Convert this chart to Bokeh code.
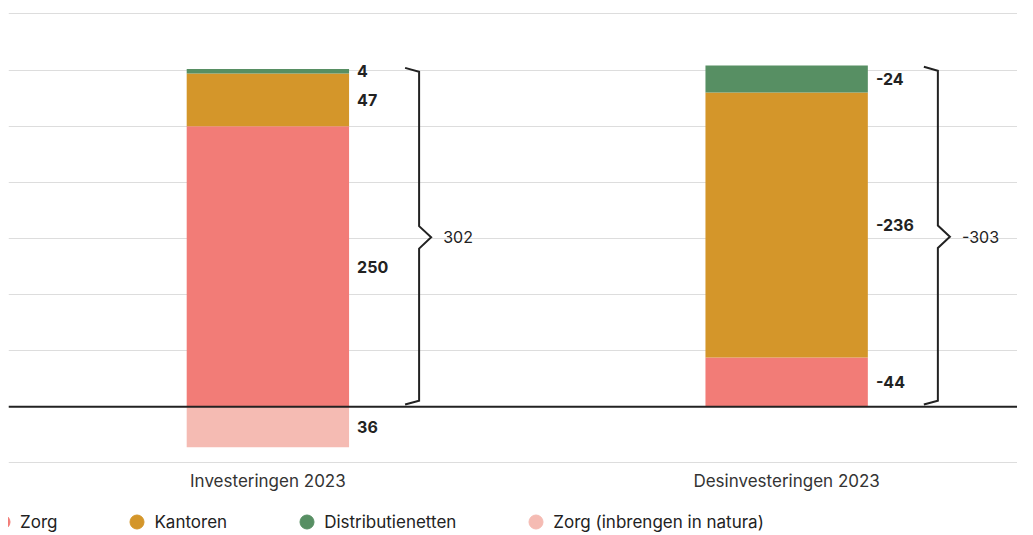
from bokeh.plotting import figure
from bokeh.layouts import column
from bokeh.models import Range1d, FixedTicker, SingleIntervalTicker, Span, Legend, LegendItem, ColumnDataSource
from bokeh.embed import file_html
from bokeh.resources import INLINE
from bokeh.core.properties import value

# ---- data ----
categories = ["Investeringen 2023", "Desinvesteringen 2023"]
series = ["Zorg", "Kantoren", "Distributienetten"]
zorg = [250, -44]
kantoren = [47, -236]
distributienetten = [4, -24]
zorg_inbreng = [36, 0]          # inbreng in natura, drawn below zero
totals = [302, -303]

series_values = [zorg, kantoren, distributienetten]
series_colors = ["#F27C77", "#D4962A", "#578F63"]
inbreng_label = "Zorg (inbrengen in natura)"
inbreng_color = "#F5BBB3"

TEXT = "#222222"
FONT = "Inter"
BAR_W = 0.313
LBL_OFF = 0.172

p = figure(width=1017, height=493, output_backend="svg", toolbar_location=None,
           x_range=Range1d(0, 1.945), y_range=Range1d(-50.5, 354),
           min_border_left=5, min_border_right=0, min_border_top=9, min_border_bottom=0)
p.outline_line_color = None
p.yaxis.visible = False
p.ygrid.ticker = SingleIntervalTicker(interval=50)
p.ygrid.grid_line_color = "#DDDDDD"
p.ygrid.grid_line_width = 1
p.xgrid.grid_line_color = None

xs = [0.5 + i for i in range(len(categories))]

lab_x, lab_y, lab_t = [], [], []
bottoms = [0.0] * len(categories)
for s_name, vals, col in zip(series, series_values, series_colors):
    b = list(bottoms)
    t = [b[i] + abs(vals[i]) for i in range(len(vals))]
    src = ColumnDataSource(dict(x=xs, bottom=b, top=t))
    p.vbar(x="x", bottom="bottom", top="top", width=BAR_W, source=src,
           fill_color=col, line_color=None)
    for i, v in enumerate(vals):
        if v != 0:
            lab_x.append(xs[i] + LBL_OFF)
            lab_y.append((b[i] + t[i]) / 2)
            lab_t.append(str(v))
    bottoms = t

inb_src = ColumnDataSource(dict(x=xs, bottom=[0.0] * len(xs), top=[-v for v in zorg_inbreng]))
p.vbar(x="x", bottom="bottom", top="top", width=BAR_W, source=inb_src,
       fill_color=inbreng_color, line_color=None)
for i, v in enumerate(zorg_inbreng):
    if v != 0:
        lab_x.append(xs[i] + LBL_OFF)
        lab_y.append(-v / 2)
        lab_t.append(str(v))

p.text(x=lab_x, y=lab_y, text=lab_t, text_font=value(FONT), text_font_style="bold",
       text_font_size="16px", text_color=TEXT, text_align="left", text_baseline="middle")

p.add_layout(Span(location=0, dimension="width", line_color=TEXT, line_width=2))

XE, XV, XT, XL = 0.2645, 0.2915, 0.3147, 0.338
bx, by, tx, ty, tt = [], [], [], [], []
for i, tot in enumerate(totals):
    top = abs(tot)
    mid = top / 2
    c = xs[i]
    bx.append([c + XE, c + XV, c + XV, c + XT, c + XV, c + XV, c + XE])
    by.append([top, top - 3.5, mid + 10, mid, mid - 10, 5.5, 2])
    tx.append(c + XL)
    ty.append(mid)
    tt.append(str(tot))
p.multi_line(xs=bx, ys=by, line_color=TEXT, line_width=2, line_join="miter")
p.text(x=tx, y=ty, text=tt, text_font=value(FONT), text_font_size="16px",
       text_color=TEXT, text_align="left", text_baseline="middle")

p.xaxis.ticker = FixedTicker(ticks=xs)
p.xaxis.major_label_overrides = {x: c for x, c in zip(xs, categories)}
p.xaxis.axis_line_color = None
p.xaxis.major_tick_line_color = None
p.xaxis.minor_tick_line_color = None
p.xaxis.major_tick_out = 0
p.xaxis.major_tick_in = 0
p.xaxis.major_label_text_font = FONT
p.xaxis.major_label_text_font_size = "17px"
p.xaxis.major_label_text_color = "#333333"
p.xaxis.major_label_standoff = 7

# legend figure
lf = figure(width=1017, height=40, output_backend="svg", toolbar_location=None,
            x_range=Range1d(0, 1), y_range=Range1d(0, 1),
            min_border_left=8, min_border_right=0, min_border_top=0, min_border_bottom=0)
lf.axis.visible = False
lf.grid.grid_line_color = None
lf.outline_line_color = None
items = []
for s_name, col in zip(series + [inbreng_label], series_colors + [inbreng_color]):
    r = lf.scatter(x=[0.5], y=[-10], marker="circle", size=10, fill_color=col, line_color=col)
    items.append(LegendItem(label=s_name, renderers=[r]))
legend = Legend(items=items, orientation="horizontal", location=(-23, -6),
                glyph_width=35, glyph_height=35, label_standoff=-11, spacing=62,
                padding=0, margin=0, border_line_color=None, background_fill_alpha=0,
                label_text_font=FONT, label_text_font_size="17px", label_text_color=TEXT)
lf.add_layout(legend, "center")

open("out.html", "w").write(file_html(column(p, lf, spacing=0), INLINE))
